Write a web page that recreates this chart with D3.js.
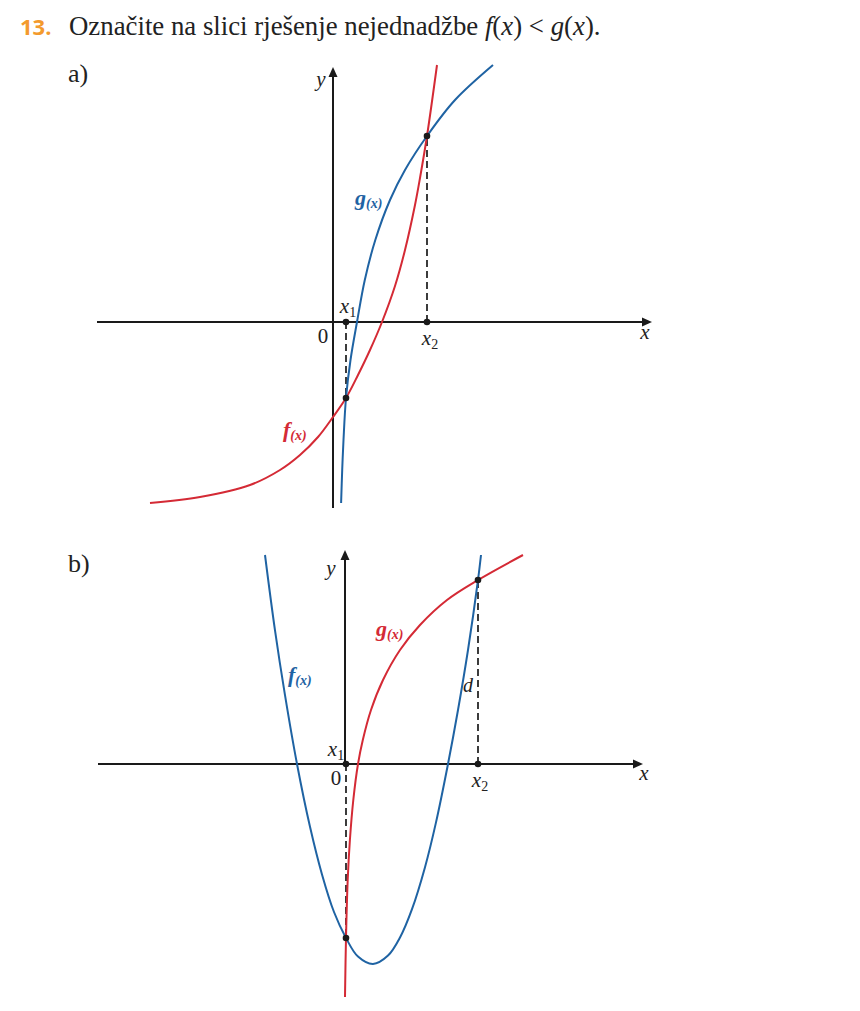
<!DOCTYPE html>
<html><head><meta charset="utf-8">
<script src="https://cdn.jsdelivr.net/npm/d3@7"></script>
<style>
body{margin:0;background:#fff}
.serif{font-family:"Liberation Serif","Times New Roman",Times,"DejaVu Serif","Noto Serif",serif}
</style>
</head><body><svg id="c" width="860" height="1011"></svg>
<script>
// ---- Panel a data (units) ----
const aXAxisExtent = [-5.9, 7.9];
const aYAxisExtent = [-4.65, 6.3];
const aG = [[0.2025,-4.525],[0.23,-3.7],[0.2625,-2.95],[0.325,-1.9],[0.4375,-0.95],[0.6,0],[0.795,1.05],[1.0575,2.05],[1.425,3.05],[1.8,3.8],[2.35,4.65],[3.05,5.55],[4.0,6.425]];
const aF = [[-4.575,-4.525],[-3.325,-4.375],[-2.075,-4.075],[-1.325,-3.7],[-0.825,-3.325],[-0.375,-2.875],[0,-2.375],[0.325,-1.9],[0.625,-1.325],[0.925,-0.7],[1.225,0],[1.55,0.9],[1.8,1.8],[2.05,2.925],[2.175,3.6],[2.35,4.65],[2.6,6.425]];
const aIntersections = [[0.325,-1.9],[2.35,4.65]];
// ---- Panel b data ----
const bXAxisExtent = [-6.175, 7.375];
const bYAxisExtent = [0, 5.275];
const bG = [[0,-5.825],[0.025,-4.35],[0.0675,-2.9],[0.1225,-1.9],[0.2075,-0.9],[0.325,0],[0.445,0.6],[0.65,1.35],[0.95,2.1],[1.375,2.85],[1.875,3.475],[2.55,4.1],[3.325,4.6],[4.45,5.225]];
const bF = [[-2.0,5.225],[-1.75,3.34],[-1.5,1.72],[-1.2,0],[-0.875,-1.57],[-0.575,-2.76],[-0.275,-3.7],[0.025,-4.35],[0.325,-4.815],[0.7,-5.0],[1.075,-4.79],[1.375,-4.3375],[1.675,-3.63],[2.0,-2.58],[2.275,-1.46],[2.575,0],[2.825,1.35],[3.075,2.85],[3.325,4.6],[3.4,5.225]];
const bIntersections = [[0.025,-4.35],[3.325,4.6]];

const BLUE = "#1f63a3", RED = "#d42a35", ORANGE = "#f39a2d", INK = "#1a1a1a";
const svg = d3.select("#c");

// Title
svg.append("text").attr("x",20).attr("y",35).attr("font-family","'Open Sans',Lato,sans-serif").attr("font-weight","bold").attr("fill",ORANGE).attr("font-size",22).text("13.");
const t = svg.append("text").attr("class","serif").attr("x",69).attr("y",35).attr("font-size",26.8).attr("fill","#222");
t.append("tspan").text("Označite na slici rješenje nejednadžbe ");
t.append("tspan").attr("font-style","italic").text("f");
t.append("tspan").text("(");
t.append("tspan").attr("font-style","italic").text("x");
t.append("tspan").text(") < ");
t.append("tspan").attr("font-style","italic").text("g");
t.append("tspan").text("(");
t.append("tspan").attr("font-style","italic").text("x");
t.append("tspan").text(").");

svg.append("text").attr("class","serif").attr("x",68).attr("y",82).attr("font-size",26).attr("fill","#222").text("a)");
svg.append("text").attr("class","serif").attr("x",68).attr("y",572).attr("font-size",26).attr("fill","#222").text("b)");

function axisLabel(g, x, y, main, sub, anchor){
  const tx = g.append("text").attr("class","serif").attr("x",x).attr("y",y).attr("font-size",21).attr("fill","#222").attr("text-anchor",anchor||"middle");
  tx.append("tspan").attr("font-style", main==="0"?"normal":"italic").text(main);
  if(sub) tx.append("tspan").attr("font-size",14).attr("dy",4).text(sub);
}
function fnLabel(g, x, y, name, color){
  const tx = g.append("text").attr("class","serif").attr("x",x).attr("y",y).attr("font-weight","bold").attr("font-style","italic").attr("fill",color);
  tx.append("tspan").attr("font-size",22).text(name);
  tx.append("tspan").attr("font-size",14).attr("dy",3).text("(x)");
}

function panel(cfg){
  const g = svg.append("g");
  const x = d3.scaleLinear().domain(cfg.xd).range(cfg.xr);
  const y = d3.scaleLinear().domain(cfg.yd).range(cfg.yr);
  const line = d3.line().x(d=>x(d[0])).y(d=>y(d[1])).curve(d3.curveCatmullRom.alpha(0.5));
  g.append("line").attr("x1",x(cfg.xa[0])).attr("x2",x(cfg.xa[1])-4).attr("y1",y(0)).attr("y2",y(0)).attr("stroke",INK).attr("stroke-width",2);
  g.append("path").attr("d",`M${x(cfg.xa[1])+3},${y(0)} l-10,-4.5 l0,9 z`).attr("fill",INK);
  g.append("line").attr("x1",x(0)).attr("x2",x(0)).attr("y1",y(cfg.ya[0])).attr("y2",y(cfg.ya[1])+4).attr("stroke",INK).attr("stroke-width",2);
  g.append("path").attr("d",`M${x(0)},${y(cfg.ya[1])-3} l-4.5,10 l9,0 z`).attr("fill",INK);
  cfg.pts.forEach(p=>{
    g.append("line").attr("x1",x(p[0])).attr("x2",x(p[0])).attr("y1",y(0)).attr("y2",y(p[1])).attr("stroke",INK).attr("stroke-width",1.7).attr("stroke-dasharray","7,4");
  });
  cfg.curves.forEach(c=>{
    g.append("path").attr("d",line(c.data)).attr("fill","none").attr("stroke",c.color).attr("stroke-width",2);
  });
  cfg.pts.forEach(p=>{
    g.append("circle").attr("cx",x(p[0])).attr("cy",y(0)).attr("r",3.3).attr("fill",INK);
    g.append("circle").attr("cx",x(p[0])).attr("cy",y(p[1])).attr("r",3.3).attr("fill",INK);
  });
  return {g,x,y};
}

// Panel a
const A = panel({xd:[-6,8], xr:[93,653], yd:[-5,7], yr:[522,42], xa:aXAxisExtent, ya:aYAxisExtent, pts:aIntersections,
  curves:[{data:aF,color:RED},{data:aG,color:BLUE}]});
axisLabel(A.g, A.x(0)-12, A.y(aYAxisExtent[1])+16, "y");
axisLabel(A.g, A.x(aXAxisExtent[1])-4, A.y(0)+17, "x");
axisLabel(A.g, A.x(0)-10, A.y(0)+21, "0");
axisLabel(A.g, A.x(aIntersections[0][0])+2, A.y(0)-9, "x", "1");
axisLabel(A.g, A.x(aIntersections[1][0])+3, A.y(0)+23, "x", "2");
fnLabel(A.g, 355, 205, "g", BLUE);
fnLabel(A.g, 283, 437, "f", RED);

// Panel b
const B = panel({xd:[-6.5,7.5], xr:[85,645], yd:[-6,6], yr:[1004,524], xa:bXAxisExtent, ya:bYAxisExtent, pts:bIntersections,
  curves:[{data:bF,color:BLUE},{data:bG,color:RED}]});
axisLabel(B.g, B.x(0)-14, B.y(bYAxisExtent[1])+22, "y");
axisLabel(B.g, B.x(bXAxisExtent[1])+4, B.y(0)+16, "x");
axisLabel(B.g, B.x(0)-9, B.y(0)+21, "0");
axisLabel(B.g, B.x(0)-9, B.y(0)-8, "x", "1");
axisLabel(B.g, B.x(bIntersections[1][0])+2, B.y(0)+23, "x", "2");
B.g.append("text").attr("class","serif").attr("x",B.x(bIntersections[1][0])-10).attr("y",692).attr("font-style","italic").attr("font-size",20).attr("fill","#222").attr("text-anchor","middle").text("d");
fnLabel(B.g, 376, 636, "g", RED);
fnLabel(B.g, 288, 682, "f", BLUE);
</script></body></html>
